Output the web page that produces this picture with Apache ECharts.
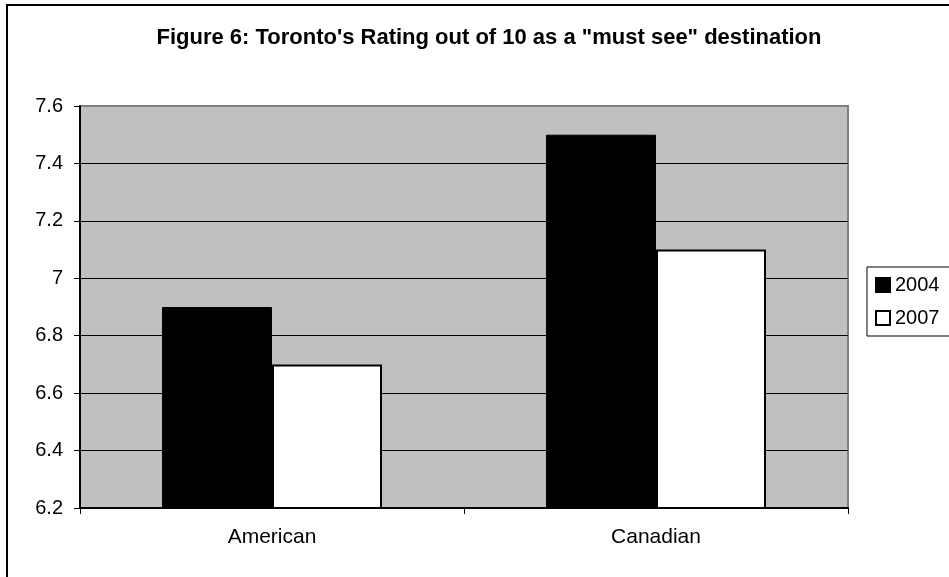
<!DOCTYPE html>
<html>
<head>
<meta charset="utf-8">
<script src="https://cdn.jsdelivr.net/npm/echarts@6/dist/echarts.min.js"></script>
<style>
  html, body { margin: 0; padding: 0; background: #fff; }
  #chart { width: 949px; height: 577px; }
</style>
</head>
<body>
<div id="chart"></div>
<script>
// Ratings of Toronto as a "must see" destination, by visitor origin
const categories = ['American', 'Canadian'];
const years = ['2004', '2007'];
const ratings2004 = [6.9, 7.5];
const ratings2007 = [6.7, 7.1];

const FONT = '"Liberation Sans", Arial, sans-serif';

const chart = echarts.init(document.getElementById('chart'), null, { renderer: 'canvas' });

chart.setOption({
  backgroundColor: '#ffffff',
  animation: false,
  title: {
    text: 'Figure 6: Toronto\'s Rating out of 10 as a "must see" destination',
    left: 484,
    textAlign: 'center',
    top: 22,
    textStyle: { fontFamily: FONT, fontSize: 22, fontWeight: 'bold', color: '#000' }
  },
  graphic: [{
    type: 'rect',
    shape: { x: 7, y: 5, width: 1000, height: 1000 },
    style: { fill: 'none', stroke: '#000', lineWidth: 2 },
    silent: true
  }],
  legend: {
    orient: 'vertical',
    left: 867,
    top: 267,
    padding: [8, 20, 8, 8],
    itemGap: 13,
    itemWidth: 14,
    itemHeight: 14,
    borderColor: '#000',
    borderWidth: 1,
    icon: 'rect',
    textStyle: { fontFamily: FONT, fontSize: 20, color: '#000' },
    data: years
  },
  grid: {
    left: 80,
    top: 106,
    right: 101,
    bottom: 69,
    show: true,
    backgroundColor: '#C0C0C0',
    borderColor: '#808080',
    borderWidth: 2
  },
  xAxis: {
    type: 'category',
    data: categories,
    axisLine: { lineStyle: { color: '#000', width: 2 } },
    axisTick: { show: true, length: 6, lineStyle: { color: '#000' } },
    axisLabel: { fontFamily: FONT, fontSize: 21, color: '#000', margin: 19 }
  },
  yAxis: {
    type: 'value',
    min: 6.2,
    max: 7.6,
    interval: 0.2,
    axisLine: { show: true, lineStyle: { color: '#000', width: 2 } },
    axisTick: { show: true, length: 6, lineStyle: { color: '#000' } },
    axisLabel: {
      fontFamily: FONT, fontSize: 20, color: '#000', margin: 17,
      formatter: v => String(Math.round(v * 10) / 10)
    },
    splitLine: {
      show: true,
      lineStyle: {
        color: ['#C0C0C0', '#000', '#000', '#000', '#000', '#000', '#000', '#808080'],
        width: 1
      }
    }
  },
  series: [
    {
      name: '2004',
      type: 'bar',
      data: ratings2004,
      barGap: '0%',
      barCategoryGap: '42.7%',
      itemStyle: { color: '#000', borderColor: '#000', borderWidth: 1 }
    },
    {
      name: '2007',
      type: 'bar',
      data: ratings2007,
      itemStyle: { color: '#fff', borderColor: '#000', borderWidth: 2 }
    }
  ]
});
</script>
</body>
</html>
